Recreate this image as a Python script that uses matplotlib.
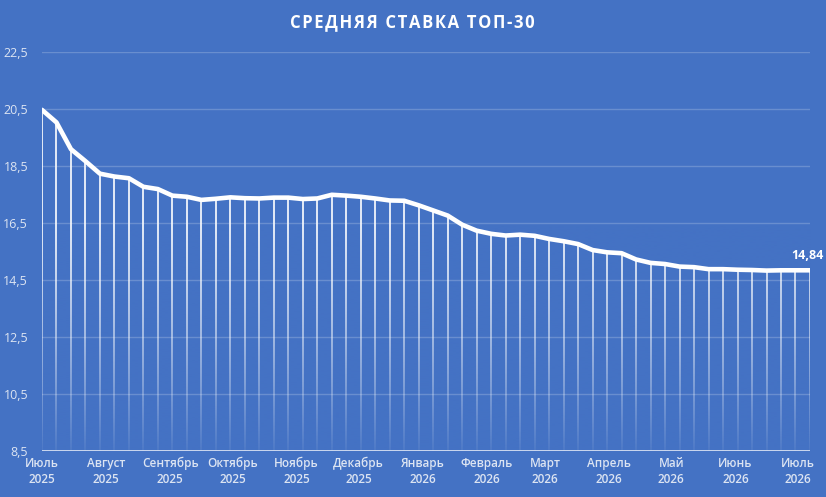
import numpy as np
import pandas as pd
import matplotlib
matplotlib.use("Agg")
import matplotlib.pyplot as plt
import matplotlib.dates as mdates
from matplotlib.colors import to_rgb

# weekly average rate, top-30
rate = [20.47, 20.03, 19.09, 18.67, 18.23, 18.13, 18.07, 17.77, 17.69, 17.46,
        17.42, 17.31, 17.35, 17.40, 17.37, 17.36, 17.39, 17.39, 17.34, 17.36,
        17.49, 17.46, 17.42, 17.36, 17.29, 17.28, 17.12, 16.94, 16.76, 16.44,
        16.23, 16.12, 16.06, 16.09, 16.05, 15.94, 15.86, 15.76, 15.55, 15.47,
        15.44, 15.22, 15.10, 15.06, 14.97, 14.95, 14.88, 14.88, 14.86, 14.85,
        14.83, 14.84, 14.84, 14.84]
dates = pd.date_range("2025-07-01", periods=len(rate), freq="7D")

month_starts = pd.date_range("2025-07-01", "2026-07-01", freq="MS")
month_names = ["Июль", "Август", "Сентябрь", "Октябрь", "Ноябрь", "Декабрь",
               "Январь", "Февраль", "Март", "Апрель", "Май", "Июнь", "Июль"]
month_labels = [f"{m}\n{d.year}" for m, d in zip(month_names, month_starts)]

y_ticks = np.arange(8.5, 22.6, 2.0)
last_label = "14,84"
title = "СРЕДНЯЯ СТАВКА ТОП-30"

bg = "#4472C4"
txt = "#DCE4F2"

plt.rcParams["font.family"] = ["Open Sans", "DejaVu Sans"]

fig = plt.figure(figsize=(8.26, 4.97), dpi=100, facecolor=bg)
ax = fig.add_axes([0.0508, 0.0926, 0.9298, 0.8028])
ax.set_facecolor(bg)

x = mdates.date2num(dates)
ymin, ymax = y_ticks[0], y_ticks[-1]

# drop lines
ax.vlines(x, ymin, rate, color="white", lw=1.2, zorder=2)

# fade of the drop lines toward the bottom
fade_top = 16.5
n = 200
alpha = np.linspace(0.0, 0.95, n) ** 1.2
grad = np.zeros((n, 1, 4))
grad[:, 0, :3] = to_rgb(bg)
grad[:, 0, 3] = alpha
ax.imshow(grad, extent=[x[0], x[-1], ymin, fade_top], origin="upper",
          aspect="auto", zorder=3, interpolation="bilinear")

# gridlines
for yt in y_ticks[1:]:
    ax.axhline(yt, color="white", alpha=0.2, lw=1.0, zorder=4)
ax.axhline(ymin, color="#D9E2F3", lw=2.0, zorder=4)

# main line
ax.plot(x, rate, color="white", lw=3.3, solid_joinstyle="round",
        solid_capstyle="round", zorder=6)

ax.annotate(last_label, (x[-1], rate[-1]), xytext=(-2, 6),
            textcoords="offset points", ha="center", va="bottom",
            color="white", fontsize=9, fontweight="bold", zorder=7)

ax.set_xlim(x[0], x[-1])
ax.set_ylim(ymin, ymax)

ax.set_yticks(y_ticks)
ax.set_yticklabels([f"{v:.1f}".replace(".", ",") for v in y_ticks],
                   color=txt, fontsize=9)
ax.set_xticks(mdates.date2num(month_starts))
ax.set_xticklabels(month_labels, color=txt, fontsize=8.5, fontweight="semibold",
                   linespacing=1.35)
ax.tick_params(axis="both", length=0)
ax.tick_params(axis="y", pad=10)
ax.tick_params(axis="x", pad=4)

for s in ax.spines.values():
    s.set_visible(False)

# spaced-out title
fig.text(0.4995, 0.955, "\u200a".join(title), ha="center", va="center",
         color="white", fontsize=12, fontweight="bold")

fig.savefig("out.png", dpi=100, facecolor=bg)
